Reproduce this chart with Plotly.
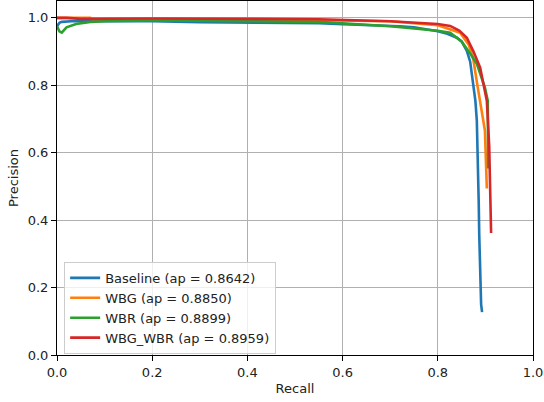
import plotly.graph_objects as go

names = ["Baseline (ap = 0.8642)", "WBG (ap = 0.8850)", "WBR (ap = 0.8899)", "WBG_WBR (ap = 0.8959)"]
colors = ["#1f77b4", "#ff7f0e", "#2ca02c", "#d62728"]

baseline_recall = [0.0, 0.005, 0.01, 0.03, 0.1, 0.2, 0.3, 0.4, 0.5, 0.55, 0.6, 0.65, 0.7, 0.72, 0.75, 0.78, 0.8, 0.82, 0.84, 0.85, 0.861, 0.868, 0.872, 0.876, 0.879, 0.882, 0.884, 0.886, 0.887, 0.889, 0.891, 0.893]
baseline_prec = [0.975, 0.985, 0.988, 0.99, 0.99, 0.99, 0.987, 0.986, 0.984, 0.984, 0.981, 0.979, 0.976, 0.975, 0.972, 0.966, 0.96, 0.953, 0.941, 0.93, 0.902, 0.87, 0.83, 0.79, 0.754, 0.695, 0.607, 0.45, 0.36, 0.192, 0.15, 0.127]

wbg_recall = [0.0, 0.07, 0.075, 0.2, 0.4, 0.55, 0.7, 0.8, 0.847, 0.865, 0.874, 0.884, 0.889, 0.895, 0.899, 0.903]
wbg_prec = [1.0, 1.0, 0.996, 0.996, 0.995, 0.993, 0.99, 0.978, 0.956, 0.92, 0.882, 0.793, 0.754, 0.7, 0.666, 0.494]

wbr_recall = [0.0, 0.005, 0.01, 0.02, 0.04, 0.07, 0.1, 0.2, 0.4, 0.55, 0.7, 0.8, 0.826, 0.85, 0.87, 0.882, 0.899, 0.905, 0.906]
wbr_prec = [0.975, 0.96, 0.956, 0.972, 0.982, 0.988, 0.99, 0.992, 0.99, 0.988, 0.975, 0.962, 0.956, 0.93, 0.89, 0.864, 0.793, 0.754, 0.553]

wbgwbr_recall = [0.0, 0.02, 0.05, 0.2, 0.4, 0.55, 0.7, 0.8, 0.826, 0.845, 0.861, 0.875, 0.889, 0.903, 0.908, 0.91, 0.912]
wbgwbr_prec = [1.0, 1.0, 0.997, 0.998, 0.997, 0.996, 0.99, 0.982, 0.976, 0.962, 0.941, 0.9, 0.852, 0.754, 0.62, 0.509, 0.362]

tick_vals = [0.0, 0.2, 0.4, 0.6, 0.8, 1.0]

series = [
    (baseline_recall, baseline_prec),
    (wbg_recall, wbg_prec),
    (wbr_recall, wbr_prec),
    (wbgwbr_recall, wbgwbr_prec),
]

fig = go.Figure()
for (r, p), n, c in zip(series, names, colors):
    fig.add_trace(go.Scatter(x=r, y=p, mode="lines", name=n,
                             line=dict(color=c, width=2.6)))

axis_common = dict(
    showgrid=True, gridcolor="#b0b0b0", gridwidth=1,
    showline=True, linecolor="black", linewidth=1, mirror=True,
    ticks="outside", ticklen=5, tickcolor="black",
    tickvals=tick_vals, tickformat=".1f", zeroline=False, automargin=False,
    tickfont=dict(family="DejaVu Sans", size=13, color="#222"),
)
title_font = dict(family="DejaVu Sans", size=13, color="#222")

fig.update_layout(
    width=544, height=402,
    margin=dict(l=57, r=11, t=1, b=47, autoexpand=False),
    plot_bgcolor="white", paper_bgcolor="white",
    font=dict(family="DejaVu Sans", size=13, color="#222"),
    xaxis=dict(range=[0, 1], title=dict(text="Recall", standoff=5, font=title_font), **axis_common),
    yaxis=dict(range=[0, 1.05], title=dict(text="Precision", standoff=6, font=title_font), **axis_common),
    legend=dict(x=0.015, y=0.003, xanchor="left", yanchor="bottom",
                bgcolor="rgba(255,255,255,0.8)", bordercolor="#cccccc", borderwidth=1,
                font=dict(family="DejaVu Sans", size=13, color="#222"),
                tracegroupgap=0, itemwidth=30),
    showlegend=True,
)

fig.write_html("out.html", config={"displayModeBar": False},
               post_script="document.body.style.margin='0';document.body.style.overflow='hidden';")
